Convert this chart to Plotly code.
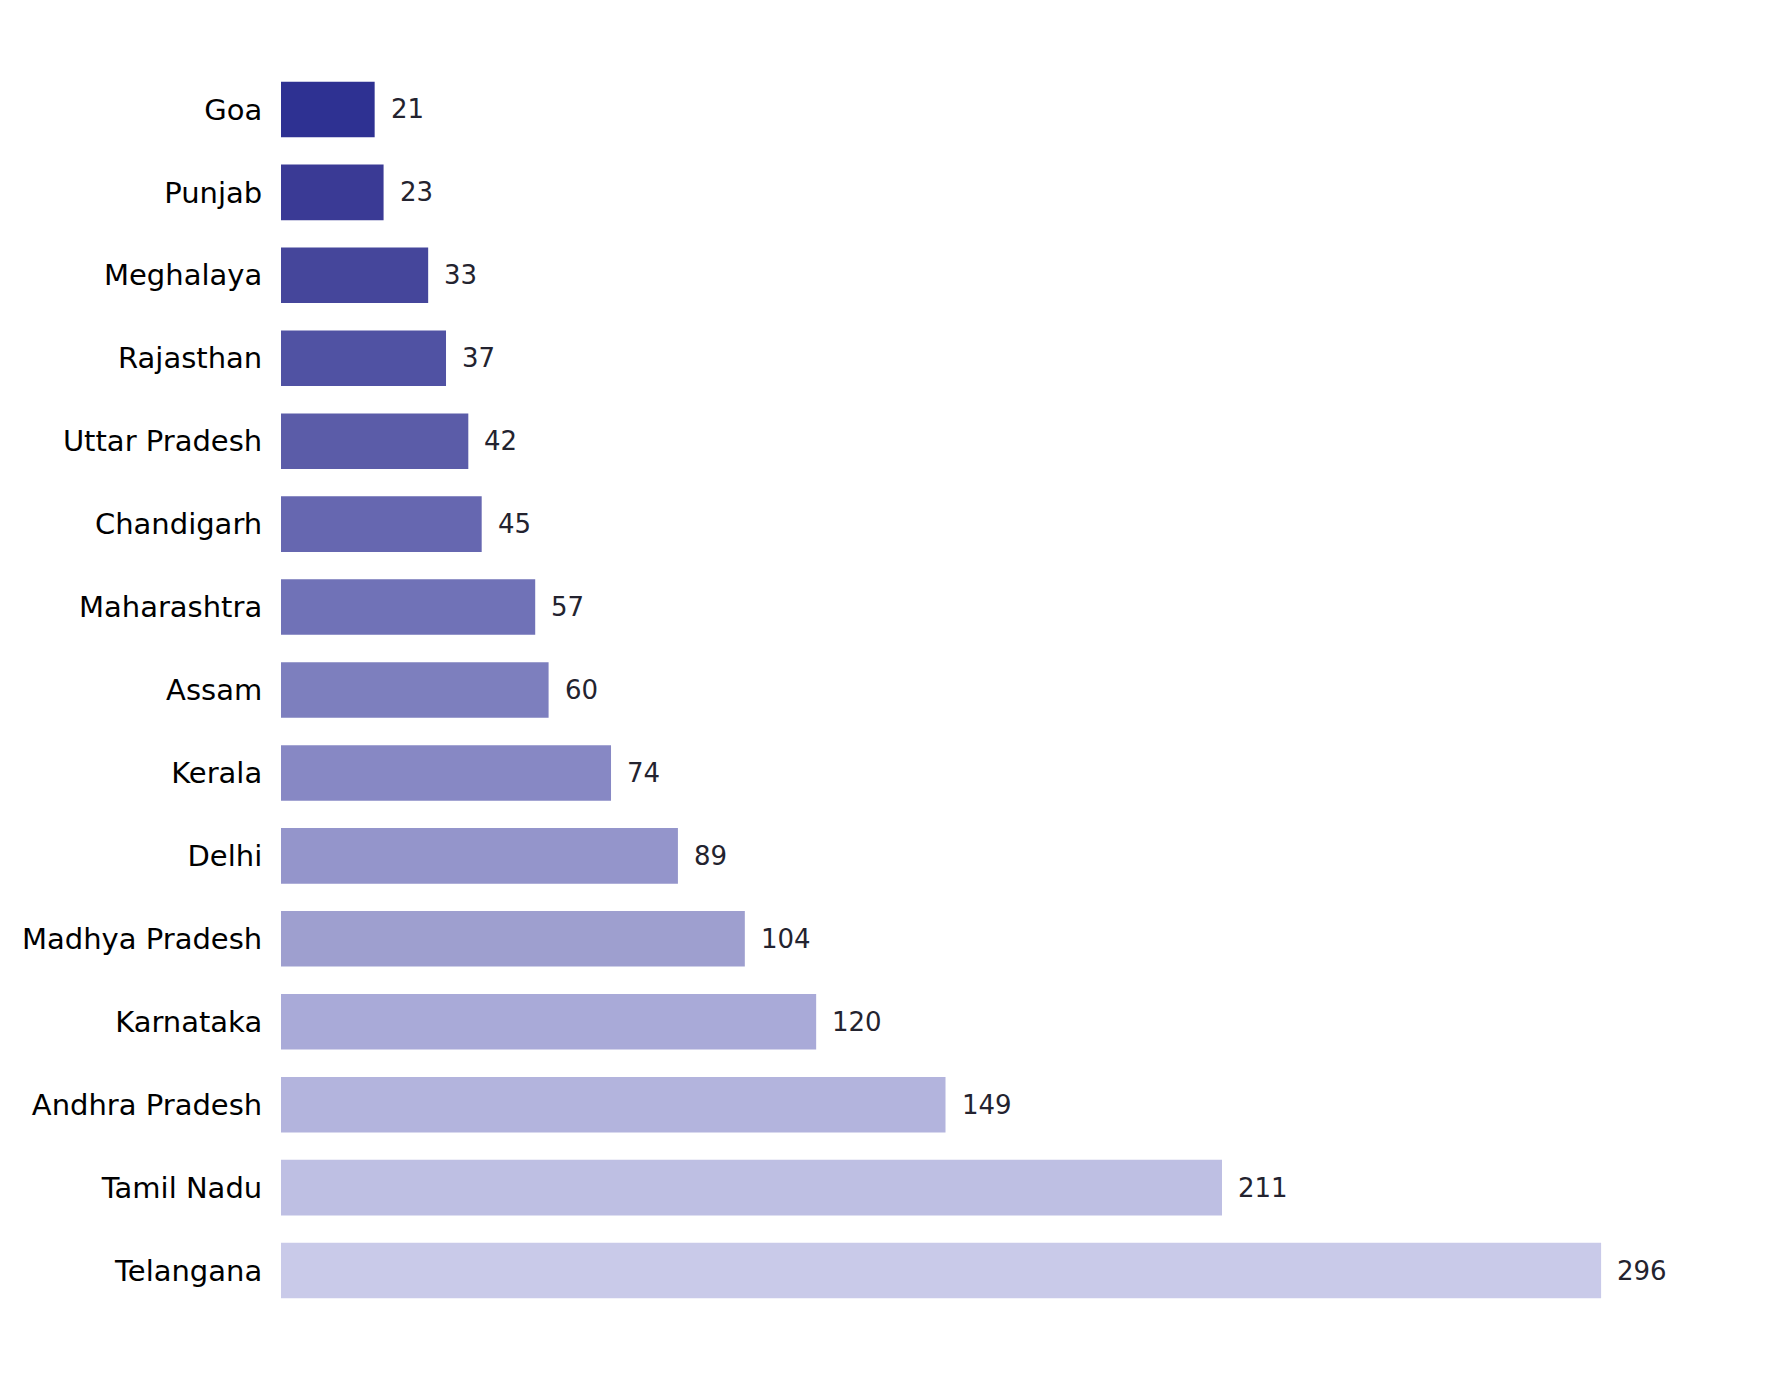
import plotly.graph_objects as go

# Values (top to bottom)
states = ["Goa", "Punjab", "Meghalaya", "Rajasthan", "Uttar Pradesh", "Chandigarh",
          "Maharashtra", "Assam", "Kerala", "Delhi", "Madhya Pradesh", "Karnataka",
          "Andhra Pradesh", "Tamil Nadu", "Telangana"]
counts = [21, 23, 33, 37, 42, 45, 57, 60, 74, 89, 104, 120, 149, 211, 296]

# Bar colours, dark to light
bar_colors = ["#2E3192", "#3A3A95", "#45469B", "#5052A3", "#5B5CA8", "#6667B0",
              "#7072B7", "#7D7FBE", "#8788C4", "#9495CB", "#9E9FCF", "#A9AAD8",
              "#B3B4DD", "#BEBFE3", "#C9CAE9"]

fig = go.Figure(go.Bar(
    x=counts,
    y=states,
    orientation="h",
    marker=dict(color=bar_colors, line=dict(width=0)),
    hovertemplate="%{y}: %{x}<extra></extra>",
))

# value labels just right of each bar
for s, c in zip(states, counts):
    fig.add_annotation(
        x=c, y=s, text=str(c), showarrow=False,
        xanchor="left", yanchor="middle", xshift=14,
        font=dict(family="DejaVu Sans", size=26, color="#23232f"),
    )

fig.update_layout(
    width=1779,
    height=1380,
    template="simple_white",
    plot_bgcolor="white",
    paper_bgcolor="white",
    bargap=0.33,
    showlegend=False,
    margin=dict(l=273, r=20, t=60, b=76),
    font=dict(family="DejaVu Sans"),
)
fig.update_xaxes(range=[0, 333.2], visible=False)
fig.update_yaxes(
    autorange="reversed",
    showline=False,
    ticks="outside",
    ticklen=12,
    tickcolor="rgba(0,0,0,0)",
    tickfont=dict(family="DejaVu Sans", size=29, color="black"),
)

fig.write_html("out.html")
